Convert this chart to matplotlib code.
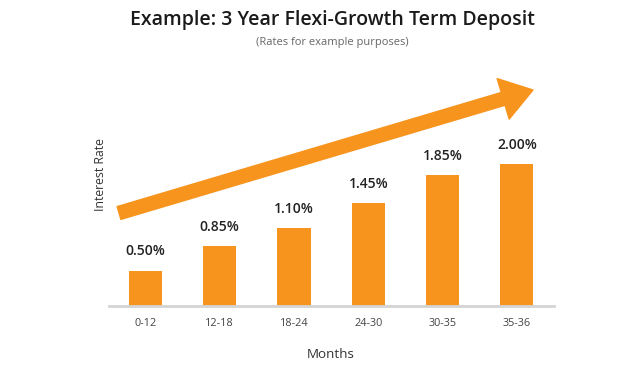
import matplotlib.pyplot as plt

plt.rcParams['font.family'] = ['Open Sans', 'DejaVu Sans']

months = ['0-12', '12-18', '18-24', '24-30', '30-35', '35-36']
rates = [0.50, 0.85, 1.10, 1.45, 1.85, 2.00]
orange = '#f7941d'

fig = plt.figure(figsize=(6.23, 3.77), dpi=100)
# axes placed in pixel terms: x 109..554, baseline at y=306
ax = fig.add_axes([109 / 623, (377 - 306) / 377, (554 - 109) / 623, 240 / 377])

x = range(len(months))
ax.bar(x, rates, width=0.445, color=orange)
for i, r in enumerate(rates):
    ax.text(i, r + 0.17, '%.2f%%' % r, ha='center', va='bottom',
            fontsize=10, fontweight='semibold', color='#222222')

ax.set_xlim(-0.49, 5.5)
ax.set_ylim(0, 240 / 71)
ax.set_xticks(list(x))
ax.set_xticklabels(months, fontsize=7.8, color='#444444')
ax.tick_params(axis='x', length=0, pad=9)
ax.set_yticks([])
for s in ['top', 'right', 'left']:
    ax.spines[s].set_visible(False)
ax.spines['bottom'].set_color('#d4d4d4')
ax.spines['bottom'].set_linewidth(2)

# big trend arrow (in figure pixels)
ax.annotate('', xy=(533 / 623, 1 - 90 / 377), xycoords='figure fraction',
            xytext=(119 / 623, 1 - 213 / 377), textcoords='figure fraction',
            arrowprops=dict(arrowstyle='simple,head_length=1.4,head_width=1.9,tail_width=0.6',
                            color=orange, mutation_scale=16, shrinkA=0, shrinkB=0))

fig.text(332 / 623, 1 - 20 / 377, 'Example: 3 Year Flexi-Growth Term Deposit',
         ha='center', va='center', fontsize=14, fontweight='semibold', color='#1a1a1a')
fig.text(332 / 623, 1 - 43 / 377, '(Rates for example purposes)',
         ha='center', va='center', fontsize=8, color='#666666')
fig.text(331 / 623, 1 - 355 / 377, 'Months', ha='center', va='center',
         fontsize=9.6, color='#333333')
fig.text(101 / 623, 1 - 175 / 377, 'Interest Rate', ha='center', va='center',
         rotation=90, fontsize=8.8, color='#333333')

fig.savefig('out.png', dpi=100, facecolor='white')
